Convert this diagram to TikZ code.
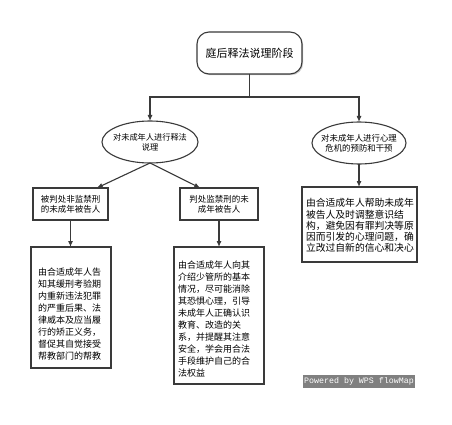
\documentclass[tikz,border=0pt]{standalone}
\usepackage{fontspec}
\setmainfont{Noto Sans CJK SC}
\newfontfamily\wmfont{Liberation Mono}
\usetikzlibrary{shapes.geometric,arrows.meta,calc,shadows}
\definecolor{linec}{HTML}{3A3A3A}
\definecolor{wmgray}{HTML}{808080}
\begin{document}
\begin{tikzpicture}[x=1pt,y=-1pt,
  every node/.style={inner sep=0pt, outer sep=0pt},
  conn/.style={draw=linec, line width=1.1pt},
  arr/.style={conn, -{Latex[length=6pt,width=5pt]}},
  shad/.style={drop shadow={shadow xshift=1.2pt,shadow yshift=-1.2pt,fill=black!40,opacity=0.5}},
  boxst/.style={draw=linec, line width=1.1pt, fill=white, rectangle, shad},
  ell/.style={draw=linec, line width=1.1pt, ellipse, fill=white},
  txt/.style={align=left, anchor=north west},
  ctxt/.style={align=center},
]
\fill[white] (0,0) rectangle (452,425);
\useasboundingbox (0,0) rectangle (452,425);

% title
\node[boxst, rounded corners=12pt, minimum width=105pt, minimum height=42pt,
      font=\fontsize{11}{13}\selectfont] (title) at (249.5,53) {庭后释法说理阶段};

% ellipses
\node[ell, minimum width=96pt, minimum height=42pt] (e1) at (150,142) {};
\node[ctxt, font=\fontsize{8.2}{10}\selectfont] (e1t) at (e1) {对未成年人进行释法\\说理};
\node[ell, minimum width=94pt, minimum height=42pt] (e2) at (359,143) {};
\node[ctxt, font=\fontsize{8.4}{10}\selectfont] (e2t) at (e2) {对未成年人进行心理\\危机的预防和干预};

% level-2 boxes
\node[boxst, minimum width=75pt, minimum height=32pt, ctxt,
      font=\fontsize{8.5}{10}\selectfont] (b1) at (70.5,204) {被判处非监禁刑\\的未成年被告人};
\node[boxst, minimum width=78pt, minimum height=32pt, ctxt,
      font=\fontsize{8.5}{10}\selectfont] (b2) at (219,204) {判处监禁刑的未\\成年被告人};

% right box
\node[boxst, minimum width=115pt, minimum height=75pt] (b3) at (359.5,224.5) {};
\node[txt, font=\fontsize{9.8}{11.3}\selectfont] (b3t) at (306,198.5)
  {由合适成年人帮助未成年\\被告人及时调整意识结\\构，避免因有罪判决等原\\因而引发的心理问题，确\\立改过自新的信心和决心};

% bottom boxes
\node[boxst, minimum width=80pt, minimum height=121pt] (b1b) at (71,307.5) {};
\node[txt, font=\fontsize{9}{12.1}\selectfont] (b1bt) at (38,267.5)
  {由合适成年人告\\知其缓刑考验期\\内重新违法犯罪\\的严重后果、法\\律威本及应当履\\行的矫正义务，\\督促其自觉接受\\帮教部门的帮教};
\node[boxst, minimum width=90pt, minimum height=137pt] (b2b) at (219,315.5) {};
\node[txt, font=\fontsize{9}{12}\selectfont] (b2bt) at (178,260.5)
  {由合适成年人向其\\介绍少管所的基本\\情况，尽可能消除\\其恐惧心理，引导\\未成年人正确认识\\教育、改造的关\\系，并提醒其注意\\安全，学会用合法\\手段维护自己的合\\法权益};

% connectors
\coordinate (j) at (249.5,97);
\draw[conn] (title.south) -- (j);
\draw[arr] (j) -| (e1.north);
\draw[arr] (j) -| (e2.north);
\coordinate (t1) at ($(b1.north west)!0.85!(b1.north east)$);
\coordinate (t2) at ($(b2.north west)!0.26!(b2.north east)$);
\draw[arr] (e1.south) -- (t1);
\draw[arr] (e1.south) -- (t2);
\draw[arr] (b1.south) -- (b1.south |- b1b.north);
\draw[arr] (b2.south) -- (b2.south |- b2b.north);
\draw[arr] (e2.south) -- (e2.south |- b3.north);

% watermark
\node[fill=wmgray, text=white, minimum width=112pt, minimum height=13pt,
      font=\wmfont\fontsize{8.3}{10}\selectfont] (wm) at (359,381.5) {Powered by WPS flowMap};
\end{tikzpicture}
\end{document}
